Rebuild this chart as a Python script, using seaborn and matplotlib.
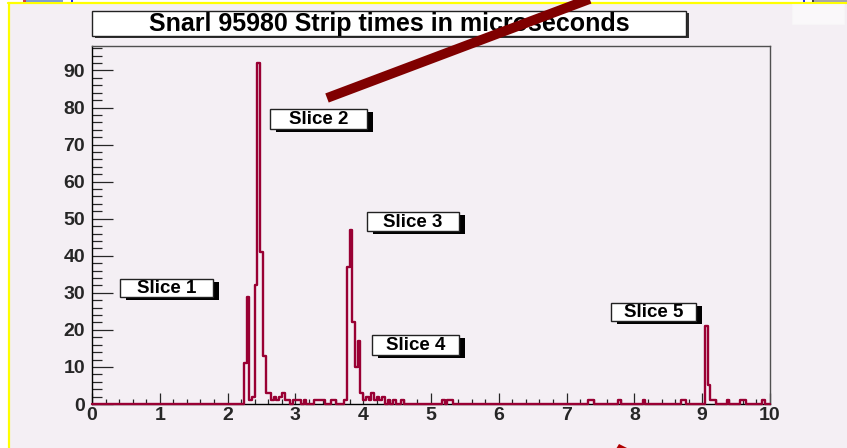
import numpy as np
import pandas as pd
import matplotlib
matplotlib.use("Agg")
import matplotlib.pyplot as plt
from matplotlib.patches import Rectangle, Polygon
from matplotlib.lines import Line2D
import seaborn as sns

# Strip-time histogram: left edge (us) of every 0.04 us bin with hits, and its count
bin_left = [2.24, 2.28, 2.32, 2.36, 2.40, 2.44, 2.48, 2.52, 2.56, 2.60, 2.64, 2.68,
            2.72, 2.76, 2.80, 2.84, 2.88, 2.96, 3.00, 3.04, 3.12, 3.28, 3.32, 3.36,
            3.40, 3.52, 3.56, 3.72, 3.76, 3.80, 3.84, 3.88, 3.92, 3.96, 4.00, 4.04,
            4.08, 4.12, 4.16, 4.20, 4.24, 4.28, 4.36, 4.44, 4.56, 5.16, 5.24, 5.28,
            7.32, 7.36, 7.76, 8.12, 8.68, 8.72, 9.04, 9.08, 9.12, 9.16, 9.36, 9.56,
            9.60, 9.88]
hit_count = [11, 29, 1, 2, 32, 92, 41, 13, 3, 3, 1, 2,
             1, 2, 3, 1, 1, 1, 1, 1, 1, 1, 1, 1,
             1, 1, 1, 1, 37, 47, 22, 10, 17, 3, 1, 2,
             1, 3, 1, 2, 1, 2, 1, 1, 1, 1, 1, 1,
             1, 1, 1, 1, 1, 1, 21, 5, 1, 1, 1, 1,
             1, 1]
bin_width = 0.04
time_range = (0.0, 10.0)

x_ticks = list(range(0, 11))
y_ticks = list(range(0, 100, 10))

title_text = "Snarl 95980 Strip times in microseconds"
slice_names = ["Slice 1", "Slice 2", "Slice 3", "Slice 4", "Slice 5"]

W, H = 847, 448
BG = "#f4eff4"
HIST_COLOR = "#990033"
FONT = "Liberation Sans"


def fx(px):
    return px / W


def fy(py):
    return 1.0 - py / H


def framed_box(x0, y0, x1, y1, text, size, dx, dy, shadow="#000000"):
    """White pave with a dark drop shadow, given in pixel coordinates."""
    fig.add_artist(Rectangle((fx(x0 + dx), fy(y1 + dy)), fx(x1 - x0), (y1 - y0) / H,
                             transform=fig.transFigure, facecolor=shadow,
                             edgecolor="none", zorder=20))
    fig.add_artist(Rectangle((fx(x0), fy(y1)), fx(x1 - x0), (y1 - y0) / H,
                             transform=fig.transFigure, facecolor="white",
                             edgecolor="#222222", linewidth=1.0, zorder=21))
    fig.text(fx((x0 + x1) / 2), fy((y0 + y1) / 2 + 0.5), text, ha="center", va="center",
             fontsize=size, fontweight="bold", family=FONT, color="black", zorder=22)


sns.set_style("ticks")
plt.rcParams["font.family"] = [FONT, "DejaVu Sans"]

fig = plt.figure(figsize=(W / 100, H / 100), dpi=100)
fig.patch.set_facecolor("white")

# canvas background and yellow frame
fig.add_artist(Rectangle((fx(8), 0), 1 - fx(8), fy(3.5), transform=fig.transFigure,
                         facecolor=BG, edgecolor="none", zorder=0))
fig.add_artist(Line2D([fx(8), 1], [fy(3.5), fy(3.5)], transform=fig.transFigure,
                      color="#ffff00", linewidth=1.6, zorder=1))
fig.add_artist(Line2D([fx(8.5), fx(8.5)], [fy(3.5), 0], transform=fig.transFigure,
                      color="#ffff00", linewidth=1.6, zorder=1))
# bits of window chrome peeking above the frame
for x0, x1, c in [(23, 26, "#d04040"), (26, 63, "#7f9fd0"), (71, 73, "#2030e0"),
                  (803, 805, "#2030e0"), (812, 814, "#404040"), (814, 847, "#a8a8a8")]:
    fig.add_artist(Rectangle((fx(x0), fy(2.5)), fx(x1 - x0), 2.5 / H,
                             transform=fig.transFigure, facecolor=c,
                             edgecolor="none", zorder=1))
# faint stats pave in the corner
fig.add_artist(Rectangle((fx(792), fy(24)), fx(52), 20 / H, transform=fig.transFigure,
                         facecolor="white", edgecolor="#f8f8f8", linewidth=0.8,
                         alpha=0.6, zorder=2))

ax = fig.add_axes([fx(92), fy(404), fx(770 - 92), (404 - 46) / H])
ax.set_facecolor(BG)

n_bins = int(round((time_range[1] - time_range[0]) / bin_width))
edges = [time_range[0] + i * bin_width for i in range(n_bins + 1)]
hits = pd.DataFrame({"time": np.array(bin_left) + bin_width / 2,
                     "hits": np.array(hit_count, dtype=float)})
sns.histplot(data=hits, x="time", weights="hits", bins=edges, element="step",
             fill=False, color=HIST_COLOR, linewidth=1.7, ax=ax)
for ln in ax.lines:
    ln.set_clip_on(False)
    ln.set_zorder(3)
for p in ax.patches:
    p.set_clip_on(False)
    p.set_zorder(3)

ax.set_xlim(*time_range)
ax.set_ylim(0, max(hit_count) * 1.05)
ax.set_xlabel("")
ax.set_ylabel("")

ax.set_xticks(x_ticks)
ax.set_xticks(np.arange(0, 10.001, 0.2), minor=True)
ax.set_yticks(y_ticks)
ax.set_yticks(np.arange(0, 97, 2), minor=True)
ax.tick_params(axis="x", which="major", direction="in", length=7.7, width=0.9,
               pad=2, labelsize=14, top=False)
ax.tick_params(axis="x", which="minor", direction="in", length=3.8, width=0.9, top=False)
ax.tick_params(axis="y", which="major", direction="in", length=15, width=0.9,
               pad=5, labelsize=14, right=False)
ax.tick_params(axis="y", which="minor", direction="in", length=7.5, width=0.9, right=False)
for lab in ax.get_xticklabels() + ax.get_yticklabels():
    lab.set_fontweight("bold")
    lab.set_family(FONT)

for side in ["left", "bottom"]:
    ax.spines[side].set_color("black")
    ax.spines[side].set_linewidth(1.0)
for side in ["top", "right"]:
    ax.spines[side].set_color("#505050")
    ax.spines[side].set_linewidth(1.0)

# title pave
framed_box(92, 11, 686, 36, title_text, 18, 3, 2, shadow="#303030")

# slice label paves
slice_boxes = [(120, 279, 213, 297), (270, 109, 367, 129), (367, 212, 459, 231),
               (372, 335, 459, 355), (611, 303, 696, 321)]
for name, (x0, y0, x1, y1) in zip(slice_names, slice_boxes):
    framed_box(x0, y0, x1, y1, name, 13.5, 6, 3)

# heavy pointer line across the top
fig.add_artist(Line2D([fx(327), fx(595)], [fy(98), fy(-3)], transform=fig.transFigure,
                      color="#800000", linewidth=7.0, solid_capstyle="butt", zorder=30))
# tip of a second pointer at the bottom edge
fig.add_artist(Polygon([(fx(616), fy(449)), (fx(619), fy(444)), (fx(629), fy(449))],
                       closed=True, transform=fig.transFigure, facecolor="#b00000",
                       edgecolor="none", zorder=30))

fig.savefig("out.png", dpi=100, facecolor=fig.get_facecolor())
